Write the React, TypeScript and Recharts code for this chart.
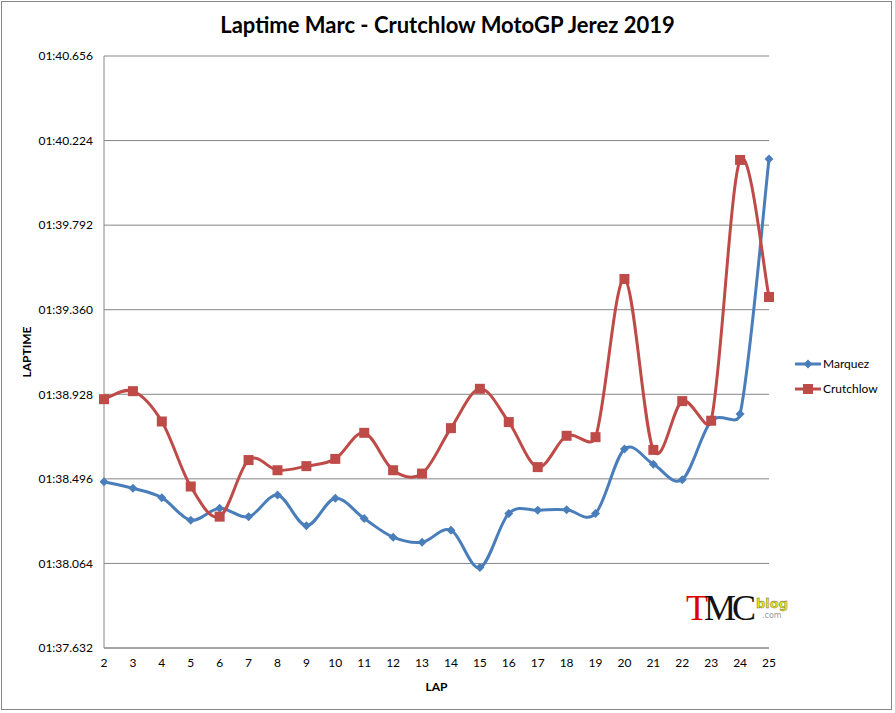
import React from "react";
import { LineChart, Line, XAxis, YAxis, CartesianGrid, Legend } from "recharts";

const laps = [2, 3, 4, 5, 6, 7, 8, 9, 10, 11, 12, 13, 14, 15, 16, 17, 18, 19, 20, 21, 22, 23, 24, 25];
const marquez = [98.481, 98.448, 98.4, 98.285, 98.346, 98.302, 98.413, 98.257, 98.397, 98.293, 98.198, 98.172, 98.234, 98.043, 98.319, 98.336, 98.338, 98.319, 98.648, 98.571, 98.492, 98.791, 98.827, 100.13];
const crutchlow = [98.903, 98.944, 98.789, 98.457, 98.303, 98.592, 98.54, 98.561, 98.598, 98.731, 98.54, 98.523, 98.755, 98.956, 98.786, 98.556, 98.716, 98.709, 99.517, 98.644, 98.893, 98.793, 100.125, 99.425];
const yTicks = [97.632, 98.064, 98.496, 98.928, 99.36, 99.792, 100.224, 100.656];
const seriesNames = ["Marquez", "Crutchlow"];

const data = laps.map((lap, i) => ({ lap, Marquez: marquez[i], Crutchlow: crutchlow[i] }));

const BLUE = "#4A7EBB";
const RED = "#BE4B48";
const FONT = "Lato, 'Open Sans', sans-serif";

const fmt = (v: number) => {
  const m = Math.floor(v / 60 + 1e-9);
  const s = v - m * 60;
  const ss = s.toFixed(3).padStart(6, "0");
  return `${String(m).padStart(2, "0")}:${ss}`;
};

// Excel-like smooth curve: Catmull-Rom tangents, control length capped at half the segment
const smoothCurve: any = (context: any) => {
  let pts: number[][] = [];
  const ctrl = (prev: number[], from: number[], next: number[], segLen: number, sign: number) => {
    const tx = next[0] - prev[0];
    const ty = next[1] - prev[1];
    const tl = Math.hypot(tx, ty) || 1;
    const len = Math.min(tl / 6, segLen / 2);
    return [from[0] + (sign * tx * len) / tl, from[1] + (sign * ty * len) / tl];
  };
  return {
    areaStart() {},
    areaEnd() {},
    lineStart() {
      pts = [];
    },
    lineEnd() {
      const n = pts.length;
      if (!n) return;
      context.moveTo(pts[0][0], pts[0][1]);
      for (let i = 0; i < n - 1; i++) {
        const p0 = pts[i - 1] || pts[i];
        const p1 = pts[i];
        const p2 = pts[i + 1];
        const p3 = pts[i + 2] || p2;
        const seg = Math.hypot(p2[0] - p1[0], p2[1] - p1[1]);
        const c1 = ctrl(p0, p1, p2, seg, 1);
        const c2 = ctrl(p1, p2, p3, seg, -1);
        context.bezierCurveTo(c1[0], c1[1], c2[0], c2[1], p2[0], p2[1]);
      }
    },
    point(x: number, y: number) {
      pts.push([+x, +y]);
    },
  };
};

const Diamond = (props: any) => {
  const { cx, cy } = props;
  if (cx == null || cy == null) return null;
  const r = 4.5;
  return <polygon key={`d${cx}`} points={`${cx},${cy - r} ${cx + r},${cy} ${cx},${cy + r} ${cx - r},${cy}`} fill={BLUE} />;
};

const Square = (props: any) => {
  const { cx, cy } = props;
  if (cx == null || cy == null) return null;
  const h = 5;
  return <rect key={`s${cx}`} x={cx - h} y={cy - h} width={2 * h} height={2 * h} fill={RED} />;
};

const LegendContent = () => (
  <div style={{ fontFamily: FONT, fontSize: 12, color: "#000" }}>
    {seriesNames.map((name, i) => (
      <div key={name} style={{ display: "flex", alignItems: "center", height: 25 }}>
        <svg width={26} height={12} style={{ marginRight: 2 }}>
          <line x1={0} y1={6} x2={26} y2={6} stroke={i === 0 ? BLUE : RED} strokeWidth={3} />
          {i === 0 ? (
            <polygon points="13,1.5 17.5,6 13,10.5 8.5,6" fill={BLUE} />
          ) : (
            <rect x={8} y={1} width={10} height={10} fill={RED} />
          )}
        </svg>
        <span>{name}</span>
      </div>
    ))}
  </div>
);

export default function App() {
  return (
    <div style={{ position: "absolute", left: 0, top: 0, width: 895, height: 713, background: "#fff" }}>
      <div
        style={{
          position: "absolute",
          left: 1,
          top: 1,
          width: 891,
          height: 709,
          border: "1px solid #868686",
          boxSizing: "border-box",
        }}
      />
      <div
        style={{
          position: "absolute",
          left: 0,
          top: 11,
          width: 895,
          textAlign: "center",
          fontFamily: FONT,
          fontWeight: 700,
          fontSize: 22,
          color: "#000",
        }}
      >
        Laptime Marc - Crutchlow MotoGP Jerez 2019
      </div>
      <LineChart
        width={895}
        height={713}
        data={data}
        margin={{ top: 56, right: 126, left: 0, bottom: 0 }}
        style={{ position: "absolute", left: 0, top: 0 }}
      >
        <CartesianGrid vertical={false} stroke="#868686" strokeWidth={1} />
        <XAxis
          dataKey="lap"
          type="number"
          domain={[2, 25]}
          ticks={laps}
          interval={0}
          height={65}
          tickLine={false}
          axisLine={{ stroke: "#868686" }}
          tick={{ fill: "#000", fontSize: 12, fontFamily: FONT }}
          tickMargin={4}
          label={{ value: "LAP", position: "insideBottom", offset: 22, style: { fontFamily: FONT, fontSize: 12, fontWeight: 700, fill: "#000" } }}
        />
        <YAxis
          type="number"
          domain={[97.632, 100.656]}
          ticks={yTicks}
          interval={0}
          width={104}
          tickLine={false}
          axisLine={{ stroke: "#868686" }}
          tickFormatter={fmt}
          tick={{ fill: "#000", fontSize: 12, fontFamily: FONT }}
          tickMargin={5}
          label={{ value: "LAPTIME", angle: -90, position: "insideLeft", offset: 27, style: { fontFamily: FONT, fontSize: 12, fontWeight: 700, fill: "#000", textAnchor: "middle" } }}
        />
        <Legend
          layout="vertical"
          verticalAlign="middle"
          align="center"
          content={<LegendContent />}
          wrapperStyle={{ position: "absolute", left: 795, top: 351, width: 100 }}
        />
        <Line dataKey="Marquez" type={smoothCurve} stroke={BLUE} strokeWidth={3} dot={<Diamond />} activeDot={false} isAnimationActive={false} />
        <Line dataKey="Crutchlow" type={smoothCurve} stroke={RED} strokeWidth={3} dot={<Square />} activeDot={false} isAnimationActive={false} />
      </LineChart>
      <div style={{ position: "absolute", left: 686, top: 590, height: 40, whiteSpace: "nowrap", lineHeight: 1 }}>
        <span style={{ fontFamily: "'Liberation Serif', serif", fontSize: 36, color: "#e00000", letterSpacing: -4 }}>T</span>
        <span style={{ fontFamily: "'Liberation Serif', serif", fontSize: 36, color: "#111", letterSpacing: -4 }}>MC</span>
        <span style={{ position: "absolute", left: 70, top: 7, fontFamily: "'DejaVu Sans', sans-serif", fontWeight: 700, fontSize: 13, color: "#e6e600", WebkitTextStroke: "0.4px #666" }}>blog</span>
        <span style={{ position: "absolute", left: 76, top: 22, fontFamily: "'DejaVu Sans', sans-serif", fontSize: 8, color: "#999" }}>.com</span>
      </div>
    </div>
  );
}
